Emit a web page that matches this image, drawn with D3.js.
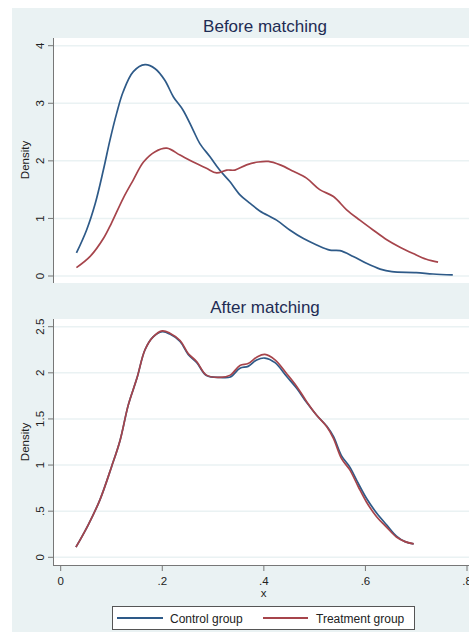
<!DOCTYPE html>
<html lang="en">
<head>
<meta charset="utf-8">
<script src="https://d3js.org/d3.v7.min.js"></script>
<style>
  body { margin: 0; background: #fff; }
  text { font-family: "Liberation Sans", Arial, sans-serif; }
</style>
</head>
<body>
<div id="chart"></div>
<script>
// ---- data ----
var beforeControlX = [0.031, 0.051, 0.068, 0.084, 0.097, 0.110, 0.123, 0.143, 0.166, 0.186, 0.205, 0.222, 0.241, 0.261, 0.274, 0.294, 0.313, 0.333, 0.353, 0.373, 0.392, 0.425, 0.451, 0.478, 0.504, 0.530, 0.550, 0.576, 0.602, 0.629, 0.652, 0.700, 0.733, 0.772];
var beforeControlY = [0.40, 0.80, 1.26, 1.84, 2.36, 2.82, 3.20, 3.55, 3.67, 3.60, 3.40, 3.11, 2.88, 2.53, 2.30, 2.07, 1.84, 1.64, 1.41, 1.26, 1.13, 0.97, 0.80, 0.65, 0.54, 0.45, 0.44, 0.34, 0.22, 0.12, 0.075, 0.06, 0.035, 0.02];

var beforeTreatX = [0.031, 0.058, 0.084, 0.100, 0.123, 0.143, 0.163, 0.186, 0.209, 0.235, 0.261, 0.287, 0.307, 0.327, 0.343, 0.366, 0.389, 0.409, 0.432, 0.458, 0.484, 0.510, 0.537, 0.563, 0.589, 0.615, 0.642, 0.668, 0.694, 0.720, 0.743];
var beforeTreatY = [0.145, 0.34, 0.65, 0.92, 1.35, 1.67, 1.98, 2.16, 2.22, 2.10, 1.98, 1.87, 1.79, 1.84, 1.84, 1.93, 1.98, 1.99, 1.93, 1.82, 1.70, 1.50, 1.38, 1.15, 0.97, 0.80, 0.63, 0.50, 0.39, 0.29, 0.24];

var afterX = [0.030, 0.054, 0.077, 0.100, 0.117, 0.133, 0.150, 0.166, 0.182, 0.200, 0.215, 0.235, 0.251, 0.268, 0.287, 0.314, 0.334, 0.353, 0.369, 0.386, 0.402, 0.422, 0.445, 0.465, 0.484, 0.504, 0.524, 0.537, 0.553, 0.569, 0.586, 0.602, 0.622, 0.642, 0.661, 0.678, 0.695];
var afterControlY = [0.11, 0.35, 0.62, 0.98, 1.27, 1.65, 1.94, 2.25, 2.39, 2.445, 2.42, 2.34, 2.20, 2.11, 1.97, 1.95, 1.955, 2.05, 2.07, 2.14, 2.16, 2.11, 1.96, 1.83, 1.68, 1.54, 1.42, 1.31, 1.10, 0.98, 0.80, 0.64, 0.48, 0.35, 0.23, 0.17, 0.145];
var afterTreatY = [0.11, 0.35, 0.62, 0.98, 1.27, 1.65, 1.94, 2.25, 2.39, 2.455, 2.43, 2.35, 2.21, 2.12, 1.975, 1.95, 1.975, 2.08, 2.10, 2.17, 2.20, 2.14, 1.99, 1.85, 1.69, 1.54, 1.415, 1.29, 1.07, 0.95, 0.765, 0.60, 0.44, 0.325, 0.22, 0.17, 0.145];

var beforeTicks = [0, 1, 2, 3, 4];
var afterTicks = [0, 0.5, 1, 1.5, 2, 2.5];
var xTicks = [0, 0.2, 0.4, 0.6, 0.8];
var seriesNames = ["Control group", "Treatment group"];

var blue = "#2e5a88", red = "#a6444b";
var W = 469, H = 632;

var svg = d3.select("#chart").append("svg")
    .attr("width", W).attr("height", H);

// graph region background
svg.append("rect")
    .attr("x", 12).attr("y", 8)
    .attr("width", W - 12).attr("height", H - 8)
    .attr("fill", "#eaf2f3");

var x = d3.scaleLinear().domain([0, 0.8]).range([60.7, 467]);

function fmt(v) {
    if (v === 0) return "0";
    var s = String(v);
    return s.indexOf("0.") === 0 ? s.slice(1) : s;
}

function panel(opt) {
    var g = svg.append("g");
    var y = d3.scaleLinear().domain(opt.domain).range(opt.range);

    g.append("rect")
        .attr("x", 53).attr("y", opt.top)
        .attr("width", W - 53).attr("height", opt.bottom - opt.top)
        .attr("fill", "#fff");

    // grid lines
    g.selectAll(".grid").data(opt.ticks).enter().append("line")
        .attr("x1", 54).attr("x2", W)
        .attr("y1", function(d) { return y(d); })
        .attr("y2", function(d) { return y(d); })
        .attr("stroke", "#eaf2f3").attr("stroke-width", 1.5);

    // y axis
    g.append("line")
        .attr("x1", 53.5).attr("x2", 53.5)
        .attr("y1", opt.top).attr("y2", opt.bottom)
        .attr("stroke", "#777").attr("stroke-width", 1);
    g.selectAll(".tick").data(opt.ticks).enter().append("line")
        .attr("x1", 48).attr("x2", 53.5)
        .attr("y1", function(d) { return y(d); })
        .attr("y2", function(d) { return y(d); })
        .attr("stroke", "#777");
    g.selectAll(".tlab").data(opt.ticks).enter().append("text")
        .attr("transform", function(d) { return "translate(44," + y(d) + ") rotate(-90)"; })
        .attr("text-anchor", "middle")
        .attr("font-size", 11.5).attr("fill", "#222")
        .text(fmt);

    g.append("text")
        .attr("transform", "translate(29," + opt.labelY + ") rotate(-90)")
        .attr("text-anchor", "middle")
        .attr("font-size", 11.5).attr("fill", "#222")
        .text("Density");

    g.append("text")
        .attr("x", 265).attr("y", opt.titleY)
        .attr("text-anchor", "middle")
        .attr("font-size", 17).attr("fill", "#1e2c53")
        .text(opt.title);

    var line = d3.line().curve(d3.curveCatmullRom.alpha(0.5));
    opt.series.forEach(function(s) {
        g.append("path")
            .datum(s.xs.map(function(v, i) { return [x(v), y(s.ys[i])]; }))
            .attr("d", line)
            .attr("fill", "none")
            .attr("stroke", s.color)
            .attr("stroke-width", 1.7);
    });
    return y;
}

panel({
    title: "Before matching", titleY: 32,
    top: 38, bottom: 283, domain: [0, 4], range: [276, 45.7],
    ticks: beforeTicks, labelY: 160,
    series: [
        { xs: beforeControlX, ys: beforeControlY, color: blue },
        { xs: beforeTreatX, ys: beforeTreatY, color: red }
    ]
});

panel({
    title: "After matching", titleY: 313,
    top: 319, bottom: 565, domain: [0, 2.5], range: [557.3, 326.7],
    ticks: afterTicks, labelY: 442,
    series: [
        { xs: afterX, ys: afterControlY, color: blue },
        { xs: afterX, ys: afterTreatY, color: red }
    ]
});

// x axis of bottom panel
var xa = svg.append("g");
xa.append("line")
    .attr("x1", 53).attr("x2", W)
    .attr("y1", 565.5).attr("y2", 565.5)
    .attr("stroke", "#777");
xa.selectAll(".xt").data(xTicks).enter().append("line")
    .attr("x1", function(d) { return x(d); })
    .attr("x2", function(d) { return x(d); })
    .attr("y1", 565.5).attr("y2", 571)
    .attr("stroke", "#777");
xa.selectAll(".xl").data(xTicks).enter().append("text")
    .attr("x", function(d) { return x(d); })
    .attr("y", 585)
    .attr("text-anchor", "middle")
    .attr("font-size", 11.5).attr("fill", "#222")
    .text(fmt);
xa.append("text")
    .attr("x", 263.7).attr("y", 597)
    .attr("text-anchor", "middle")
    .attr("font-size", 11.5).attr("fill", "#222")
    .text("x");

// legend
var lg = svg.append("g");
lg.append("rect")
    .attr("x", 112.5).attr("y", 606.5)
    .attr("width", 302).attr("height", 23)
    .attr("fill", "#fff").attr("stroke", "#555");
var legendItems = [
    { name: seriesNames[0], color: blue, x0: 117, x1: 163, tx: 170 },
    { name: seriesNames[1], color: red, x0: 263, x1: 308, tx: 316 }
];
legendItems.forEach(function(d) {
    lg.append("line")
        .attr("x1", d.x0).attr("x2", d.x1)
        .attr("y1", 618).attr("y2", 618)
        .attr("stroke", d.color).attr("stroke-width", 2);
    lg.append("text")
        .attr("x", d.tx).attr("y", 622.5)
        .attr("font-size", 12).attr("fill", "#222")
        .text(d.name);
});
</script>
</body>
</html>
